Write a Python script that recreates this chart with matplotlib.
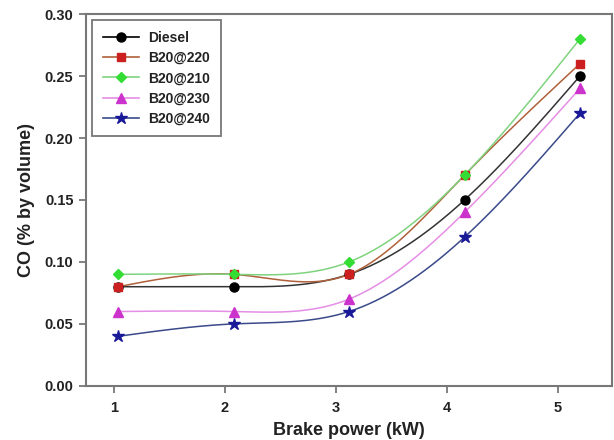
import numpy as np
import matplotlib
matplotlib.use("Agg")
import matplotlib.pyplot as plt
from matplotlib.lines import Line2D

power = [1.04, 2.08, 3.12, 4.16, 5.2]
diesel = [0.08, 0.08, 0.09, 0.15, 0.25]
b20_220 = [0.08, 0.09, 0.09, 0.17, 0.26]
b20_210 = [0.09, 0.09, 0.10, 0.17, 0.28]
b20_230 = [0.06, 0.06, 0.07, 0.14, 0.24]
b20_240 = [0.04, 0.05, 0.06, 0.12, 0.22]
xticks = [1, 2, 3, 4, 5]
yticks = [0.00, 0.05, 0.10, 0.15, 0.20, 0.25, 0.30]


def natural_spline(x, y, n=200):
    x = np.asarray(x, float); y = np.asarray(y, float)
    k = len(x); h = np.diff(x)
    A = np.zeros((k, k)); r = np.zeros(k)
    A[0, 0] = A[-1, -1] = 1
    for i in range(1, k - 1):
        A[i, i - 1] = h[i - 1]; A[i, i] = 2 * (h[i - 1] + h[i]); A[i, i + 1] = h[i]
        r[i] = 3 * ((y[i + 1] - y[i]) / h[i] - (y[i] - y[i - 1]) / h[i - 1])
    c = np.linalg.solve(A, r)
    b = (np.diff(y) / h) - h * (2 * c[:-1] + c[1:]) / 3
    d = np.diff(c) / (3 * h)
    xs = np.linspace(x[0], x[-1], n)
    idx = np.clip(np.searchsorted(x, xs) - 1, 0, k - 2)
    dx = xs - x[idx]
    ys = y[idx] + b[idx] * dx + c[idx] * dx ** 2 + d[idx] * dx ** 3
    return xs, ys


plt.rcParams['font.family'] = ['Liberation Sans', 'DejaVu Sans']
plt.rcParams['font.weight'] = 'bold'

fig = plt.figure(figsize=(6.14, 4.4), dpi=100)
ax = fig.add_axes([0.140, 0.123, 0.857, 0.845])

series = [
    ("Diesel", diesel, 'o', '#000000', '#333333', 6.5),
    ("B20@220", b20_220, 's', '#cc1f1f', '#b0603a', 6),
    ("B20@210", b20_210, 'D', '#33dd33', '#7fd37f', 5.5),
    ("B20@230", b20_230, '^', '#cc33cc', '#e58ee5', 6.5),
    ("B20@240", b20_240, '*', '#1a1a99', '#3a4a8a', 9),
]

handles = []
for label, vals, m, mc, lc, ms in series:
    xs, ys = natural_spline(power, vals)
    ax.plot(xs, ys, color=lc, lw=1.1, zorder=2)
    handles.append(Line2D([], [], color=lc if label != "Diesel" else mc, lw=1.2, marker=m,
                          markersize=ms, markerfacecolor=mc, markeredgecolor=mc, label=label))
order = [0, 1, 3, 4, 2]
for i in order:
    label, vals, m, mc, lc, ms = series[i]
    ax.plot(power, vals, linestyle='none', marker=m, markersize=ms,
            markerfacecolor=mc, markeredgecolor=mc, zorder=3)

ax.set_xlim(0.75, 5.49)
ax.set_ylim(0.0, 0.30)
ax.set_xticks(xticks)
ax.set_yticks(yticks)
ax.set_yticklabels([f"{v:.2f}" for v in yticks])

for s in ax.spines.values():
    s.set_color('#777777')
    s.set_linewidth(1.5)
ax.tick_params(axis='both', direction='out', length=5, width=1.3, color='#777777',
               labelsize=10.5, pad=4)
ax.tick_params(axis='x', pad=6)
for t in ax.get_xticklabels() + ax.get_yticklabels():
    t.set_fontweight('bold')
    t.set_color('#222222')

ax.set_xlabel("Brake power (kW)", fontsize=13, fontweight='bold', labelpad=5, color='#222222')
ax.set_ylabel("CO (% by volume)", fontsize=13, fontweight='bold', labelpad=7, color='#222222')

leg = ax.legend(handles=handles, loc='upper left', bbox_to_anchor=(0.0, 1.0),
                fontsize=10, frameon=True, fancybox=False, handlelength=2.6,
                borderpad=0.75, labelspacing=0.45, handletextpad=0.7, borderaxespad=0.45)
leg.get_frame().set_edgecolor('#555555')
leg.get_frame().set_linewidth(1.3)
for t in leg.get_texts():
    t.set_fontweight('bold')
    t.set_color('#222222')

fig.savefig("out.png", dpi=100)
